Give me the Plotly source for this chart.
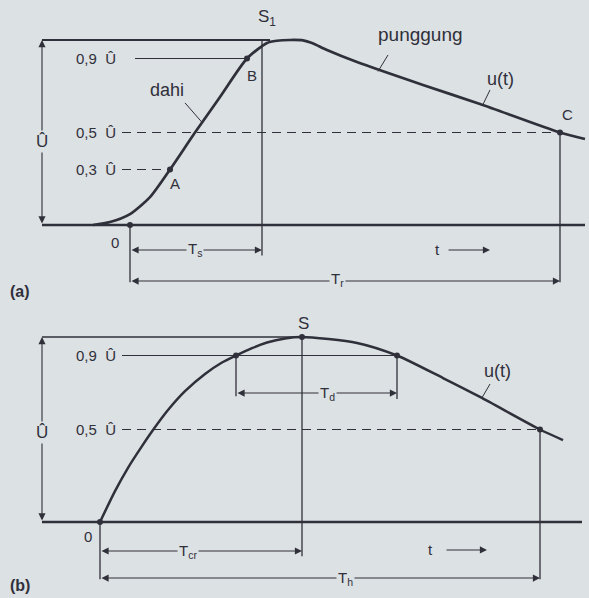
import plotly.graph_objects as go

# ---------------------------------------------------------------
# Impulse voltage shapes: (a) lightning impulse, (b) switching impulse
# time in arbitrary schematic units, voltage in per-unit of Û
# ---------------------------------------------------------------

# (a) lightning impulse u(t)
a_t = [-3.7, -2.0, 0.0, 2.0, 4.0, 6.5, 9.0, 11.7, 13.7, 14.7, 16.0, 17.3, 18.2,
       19.7, 22.7, 29.3, 35.0, 43.0, 45.5]
a_u = [0.0, 0.016, 0.059, 0.151, 0.3, 0.5, 0.692, 0.9, 0.984, 0.996, 1.0, 0.998,
       0.984, 0.946, 0.881, 0.757, 0.654, 0.5, 0.465]
a_pt_t = [0.0, 4.0, 11.7, 43.0]          # O, A, B, C
a_pt_u = [0.0, 0.3, 0.9, 0.5]
a_Ts = 13.2                               # front time end
a_Tr = 43.0                               # time to half value

# (b) switching impulse u(t)
b_t = [0.0, 1.5, 2.8, 4.2, 5.3, 6.8, 8.5, 10.5, 12.2, 13.6, 15.2, 16.7, 18.5,
       20.2, 25.7, 29.7, 34.3, 38.0, 44.0, 46.3]
b_u = [0.0, 0.167, 0.293, 0.41, 0.497, 0.605, 0.707, 0.80, 0.862, 0.9, 0.94,
       0.97, 0.992, 1.0, 0.968, 0.9, 0.778, 0.676, 0.5, 0.443]
b_pt_t = [0.0, 13.6, 20.2, 29.7, 44.0]   # O, 0.9 rise, S, 0.9 fall, half value
b_pt_u = [0.0, 0.9, 1.0, 0.9, 0.5]
b_Tcr = 20.2
b_Td = (13.6, 29.7)
b_Th = 44.0

levels_a = [0.9, 0.5, 0.3]
levels_b = [0.9, 0.5]
level_text = {0.9: "0,9&nbsp;&nbsp;Û", 0.5: "0,5&nbsp;&nbsp;Û", 0.3: "0,3&nbsp;&nbsp;Û"}

BG = "#dce1e3"
INK = "#30303b"
FONT = "Liberation Sans, Arial, sans-serif"

fig = go.Figure()

# curves
fig.add_trace(go.Scatter(x=a_t, y=a_u, mode="lines", xaxis="x", yaxis="y",
                         line=dict(color=INK, width=2.7, shape="spline", smoothing=0.7),
                         hoverinfo="skip", showlegend=False))
fig.add_trace(go.Scatter(x=a_pt_t, y=a_pt_u, mode="markers", xaxis="x", yaxis="y",
                         marker=dict(color=INK, size=6), hoverinfo="skip", showlegend=False))
fig.add_trace(go.Scatter(x=b_t, y=b_u, mode="lines", xaxis="x2", yaxis="y2",
                         line=dict(color=INK, width=2.5, shape="spline", smoothing=0.7),
                         hoverinfo="skip", showlegend=False))
fig.add_trace(go.Scatter(x=b_pt_t, y=b_pt_u, mode="markers", xaxis="x2", yaxis="y2",
                         marker=dict(color=INK, size=6), hoverinfo="skip", showlegend=False))

shapes = []


def seg(x0, y0, x1, y1, ax="", w=1.2, dash="solid"):
    shapes.append(dict(type="line", xref="x" + ax, yref="y" + ax,
                       x0=x0, y0=y0, x1=x1, y1=y1,
                       line=dict(color=INK, width=w, dash=dash)))


DASH = "9px,6px"

# ---- panel (a) construction lines
seg(-8.8, 0, 45.5, 0, w=2.7)                       # time axis
seg(-8.8, 1, 14.0, 1, w=2.0)                       # peak level
seg(0.5, 0.9, a_pt_t[2], 0.9, w=1.2)               # 0.9 Û
seg(-0.8, 0.5, a_Tr, 0.5, w=1.2, dash=DASH)        # 0.5 Û
seg(-0.8, 0.3, a_pt_t[1], 0.3, w=1.2, dash=DASH)   # 0.3 Û
seg(a_Ts, 1, a_Ts, -0.165, w=1.3)
seg(0, 0, 0, -0.31, w=1.3)
seg(a_Tr, 0.5, a_Tr, -0.31, w=1.3)

# ---- panel (b) construction lines
seg(-5.8, 0, 48.2, 0, ax="2", w=2.3)
seg(-5.8, 1, b_Tcr, 1, ax="2", w=1.6)
seg(2.2, 0.9, b_Td[1], 0.9, ax="2", w=1.2)
seg(2.2, 0.5, b_Th, 0.5, ax="2", w=1.2, dash=DASH)
seg(b_Td[0], 0.9, b_Td[0], 0.68, ax="2", w=1.3)
seg(b_Td[1], 0.9, b_Td[1], 0.665, ax="2", w=1.3)
seg(b_Tcr, 1, b_Tcr, -0.185, ax="2", w=1.3)
seg(0, 0, 0, -0.31, ax="2", w=1.3)
seg(b_Th, 0.5, b_Th, -0.31, ax="2", w=1.3)

# leader lines
seg(5.5, 0.66, 7.2, 0.555, w=1.0)          # dahi
seg(25.8, 0.919, 24.8, 0.83, w=1.0)        # punggung
seg(36.0, 0.73, 35.3, 0.652, w=1.0)        # u(t) a
seg(39.0, 0.746, 38.2, 0.672, ax="2", w=1.0)  # u(t) b

annotations = []


def arrow(x0, y0, x1, y1, ax="", both=True):
    annotations.append(dict(x=x1, y=y1, ax=x0, ay=y0, xref="x" + ax, yref="y" + ax,
                            axref="x" + ax, ayref="y" + ax, text="", showarrow=True,
                            arrowhead=2, arrowsize=1.3, arrowwidth=1.1,
                            arrowcolor=INK, arrowside="end+start" if both else "end",
                            standoff=0, startstandoff=0))


def label(x, y, text, ax="", size=15, xanchor="center", bg=None):
    annotations.append(dict(x=x, y=y, xref="x" + ax, yref="y" + ax, text=text,
                            showarrow=False, xanchor=xanchor, yanchor="middle",
                            bgcolor=bg, borderpad=1,
                            font=dict(family=FONT, size=size, color=INK)))


# dimension arrows (a)
arrow(-8.8, 0, -8.8, 1)
arrow(0, -0.135, a_Ts, -0.135)
arrow(0, -0.303, a_Tr, -0.303)
arrow(31.7, -0.135, 36.0, -0.135, both=False)
# dimension arrows (b)
arrow(-5.8, 0, -5.8, 1, ax="2")
arrow(b_Td[0], 0.697, b_Td[1], 0.697, ax="2")
arrow(0, -0.157, b_Tcr, -0.157, ax="2")
arrow(0, -0.303, b_Th, -0.303, ax="2")
arrow(34.5, -0.151, 38.7, -0.151, ax="2", both=False)

# labels (a)
for lv in levels_a:
    label(-1.2, lv, level_text[lv], xanchor="right", size=15)
label(-8.8, 0.449, "Û", size=17, bg=BG)
label(3.7, 0.73, "dahi", size=18)
label(29.0, 1.03, "punggung", size=19)
label(37.0, 0.79, "u(t)", size=18)
label(43.7, 0.6, "C", size=15)
label(4.5, 0.225, "A", size=15)
label(12.2, 0.81, "B", size=15)
label(-1.5, -0.097, "0", size=15)
label(13.7, 1.12, "S<sub>1</sub>", size=17)
label(6.5, -0.135, "T<sub>s</sub>", size=15, bg=BG)
label(20.7, -0.297, "T<sub>r</sub>", size=15, bg=BG)
label(30.7, -0.135, "t", size=15)
label(-11.0, -0.362, "<b>(a)</b>", size=16)

# labels (b)
for lv in levels_b:
    label(1.8, lv, level_text[lv], ax="2", xanchor="right", size=15)
label(-5.8, 0.486, "Û", ax="2", size=17, bg=BG)
label(20.3, 1.075, "S", ax="2", size=17)
label(-1.2, -0.081, "0", ax="2", size=15)
label(39.7, 0.815, "u(t)", ax="2", size=18)
label(22.7, 0.697, "T<sub>d</sub>", ax="2", size=15, bg=BG)
label(8.8, -0.157, "T<sub>cr</sub>", ax="2", size=15, bg=BG)
label(24.5, -0.303, "T<sub>h</sub>", ax="2", size=15, bg=BG)
label(33.0, -0.151, "t", ax="2", size=15)
label(-8.0, -0.341, "<b>(b)</b>", ax="2", size=16)

W, H = 589, 598
split = 300 / H
hidden = dict(visible=False, showgrid=False, zeroline=False, fixedrange=True)

fig.update_layout(
    width=W, height=H,
    margin=dict(l=0, r=0, t=0, b=0),
    paper_bgcolor=BG, plot_bgcolor=BG,
    shapes=shapes, annotations=annotations,
    xaxis=dict(domain=[0, 1], range=[-13.0, 45.9], anchor="y", **hidden),
    yaxis=dict(domain=[1 - split, 1], range=[-0.4054, 1.2162], anchor="x", **hidden),
    xaxis2=dict(domain=[0, 1], range=[-10.0, 48.9], anchor="y2", **hidden),
    yaxis2=dict(domain=[0, 1 - split], range=[-0.4108, 1.2], anchor="x2", **hidden),
)

fig.write_html("out.html")
